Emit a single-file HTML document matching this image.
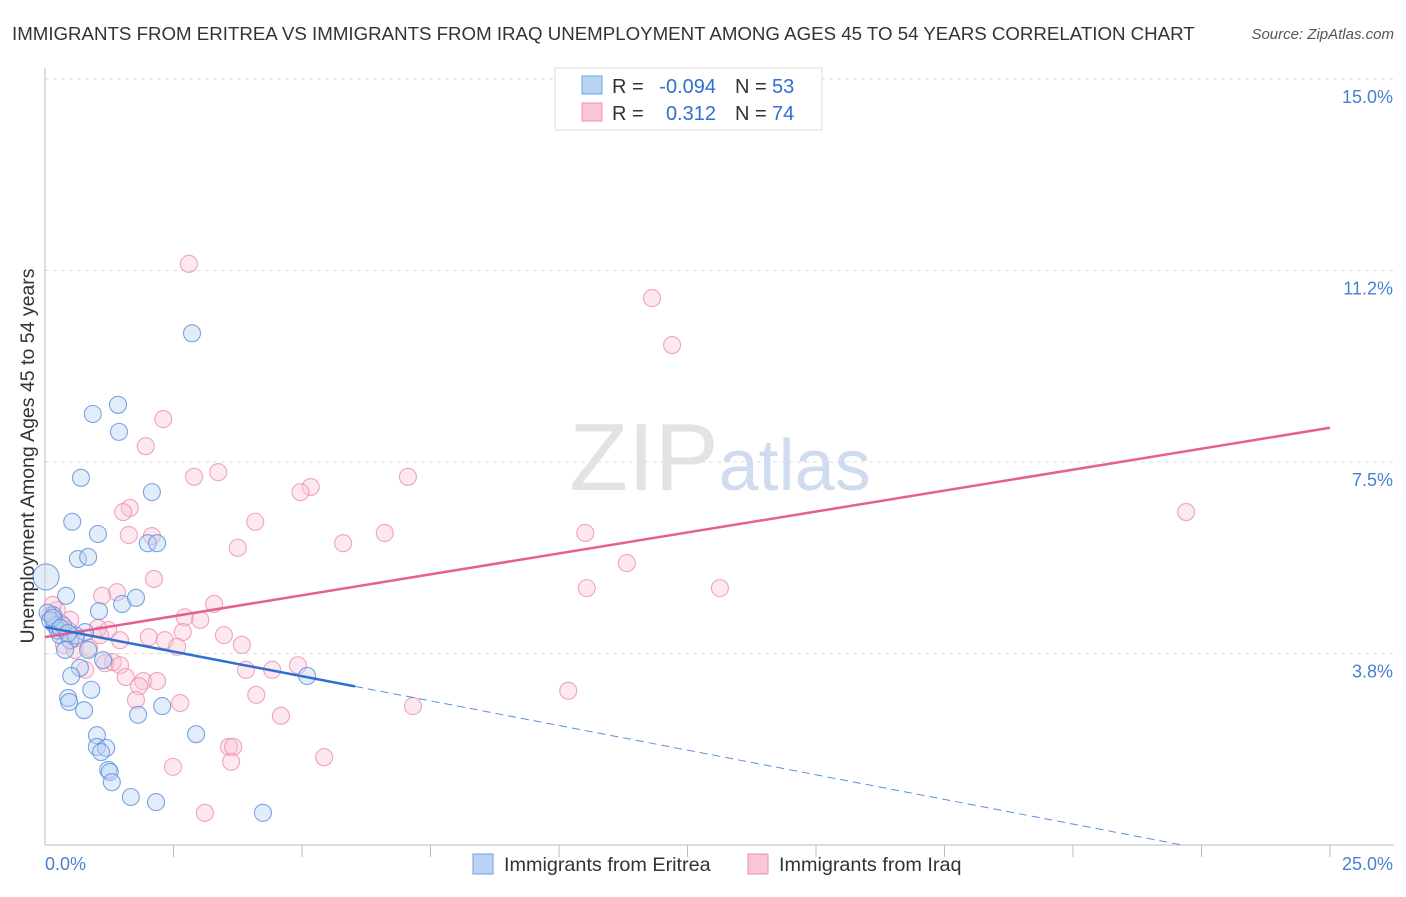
<!DOCTYPE html>
<html><head><meta charset="utf-8"><style>
body{margin:0;background:#fff;font-family:"Liberation Sans",sans-serif}
svg text{font-family:"Liberation Sans",sans-serif}
</style></head><body>
<svg id="chart" width="1406" height="892" xmlns="http://www.w3.org/2000/svg">
<text x="12" y="40" font-size="18.7" fill="#333">IMMIGRANTS FROM ERITREA VS IMMIGRANTS FROM IRAQ UNEMPLOYMENT AMONG AGES 45 TO 54 YEARS CORRELATION CHART</text>
<text x="1394" y="39" font-size="15" fill="#555" text-anchor="end" font-style="italic">Source: ZipAtlas.com</text>
<g id="grid"></g>
<text x="720" y="490" font-size="96" text-anchor="middle" fill="#e3e3e3" font-family="Liberation Serif">ZIP<tspan fill="#cfdcef" font-family="Liberation Sans" font-size="72">atlas</tspan></text>
<g id="marks"></g>
<text transform="translate(34,456) rotate(-90)" font-size="19.5" fill="#333" text-anchor="middle">Unemployment Among Ages 45 to 54 years</text>
<text x="45" y="870" font-size="18" fill="#4a7fd0">0.0%</text>
<text x="1393" y="870" font-size="18" fill="#4a7fd0" text-anchor="end">25.0%</text>
<g>
<rect x="555" y="68" width="267" height="62" fill="#fff" stroke="#ddd"/>
<rect x="582" y="76" width="20" height="18" fill="#b9d3f3" stroke="#6f9fe0"/>
<rect x="582" y="103" width="20" height="18" fill="#f9c6d6" stroke="#ec8fae"/>
<text x="612" y="93" font-size="20" fill="#333">R =</text>
<text x="716" y="93" font-size="20" fill="#2f6fd0" text-anchor="end">-0.094</text>
<text x="735" y="93" font-size="20" fill="#333">N =</text>
<text x="772" y="93" font-size="20" fill="#2f6fd0">53</text>
<text x="612" y="120" font-size="20" fill="#333">R =</text>
<text x="716" y="120" font-size="20" fill="#2f6fd0" text-anchor="end">0.312</text>
<text x="735" y="120" font-size="20" fill="#333">N =</text>
<text x="772" y="120" font-size="20" fill="#2f6fd0">74</text>
</g>
<g>
<rect x="473" y="854" width="20" height="20" fill="#b9d3f3" stroke="#6f9fe0"/>
<text x="504" y="871" font-size="19.8" fill="#333">Immigrants from Eritrea</text>
<rect x="748" y="854" width="20" height="20" fill="#f9c6d6" stroke="#ec8fae"/>
<text x="779" y="871" font-size="19.8" fill="#333">Immigrants from Iraq</text>
</g>
</svg>
<script>
const yTicks=[3.75,7.5,11.25,15];
const yTickLabels=["3.8%","7.5%","11.2%","15.0%"];
const eritreaX=[2.86,1.42,0.93,1.44,0.70,2.08,0.53,1.03,2.00,2.18,0.64,0.84,0.41,1.05,1.50,1.77,0.16,0.19,0.29,0.49,0.78,0.39,0.84,1.13,0.68,0.51,5.10,0.45,0.90,0.47,0.76,1.81,2.28,2.94,1.01,1.01,1.19,1.09,1.23,1.26,1.30,1.67,2.16,4.24,0.05,0.10,0.25,0.35,0.60,0.15,0.30,0.45];
const eritreaY=[10.02,8.62,8.44,8.09,7.19,6.91,6.33,6.09,5.91,5.91,5.60,5.64,4.88,4.58,4.72,4.84,4.50,4.31,4.11,4.01,4.17,3.82,3.82,3.62,3.47,3.31,3.31,2.88,3.04,2.80,2.64,2.55,2.72,2.17,2.15,1.92,1.90,1.82,1.47,1.43,1.23,0.94,0.84,0.63,4.55,4.40,4.20,4.30,4.10,4.45,4.25,4.15];
const bigX=[0.02], bigY=[5.25];
const iraqX=[2.80,11.81,12.20,2.30,1.96,3.37,2.90,7.06,5.17,4.97,1.65,1.52,4.09,22.20,1.63,2.08,6.61,10.51,5.80,3.75,11.32,2.12,10.54,13.13,1.40,1.11,3.29,2.72,3.02,0.23,0.19,0.49,1.23,1.03,2.02,2.33,2.68,3.48,3.83,2.57,0.37,0.58,0.86,1.32,1.17,1.46,0.78,3.91,4.42,4.92,1.57,1.91,2.18,1.83,4.11,10.18,1.77,2.63,7.16,4.59,3.58,3.66,3.62,5.43,2.49,3.11,1.07,1.46,0.10,0.30,0.45,0.15,0.60,0.25];
const iraqY=[11.38,10.71,9.79,8.34,7.81,7.30,7.21,7.21,7.01,6.91,6.60,6.52,6.33,6.52,6.07,6.05,6.11,6.11,5.91,5.82,5.52,5.21,5.03,5.03,4.95,4.88,4.72,4.46,4.41,4.60,4.41,4.41,4.21,4.25,4.07,4.01,4.17,4.11,3.92,3.88,3.92,3.82,3.86,3.58,3.56,3.52,3.43,3.43,3.43,3.52,3.29,3.21,3.21,3.11,2.94,3.02,2.84,2.78,2.72,2.53,1.92,1.92,1.63,1.72,1.53,0.63,4.11,4.01,4.50,4.35,4.20,4.70,4.05,4.30];
const eritreaTrend=[4.27,-0.193], eritreaSolidEnd=6.03;
const iraqTrend=[4.07,0.164];
const X0=45,X1=1330,Y0=845,Y15=79;
const sx=v=>X0+(X1-X0)*v/25, sy=v=>Y0-(Y0-Y15)*v/15;
const NS="http://www.w3.org/2000/svg";
function mk(parent,tag,attrs){const e=document.createElementNS(NS,tag);for(const k in attrs)e.setAttribute(k,attrs[k]);parent.appendChild(e);return e;}
const grid=document.getElementById('grid'), marks=document.getElementById('marks');
yTicks.forEach((t,i)=>{
 const l=mk(grid,'line',{x1:X0,x2:1394,y1:sy(t),y2:sy(t),stroke:'#ddd','stroke-dasharray':'4,4'});
 
 
 const tx=mk(grid,'text',{x:1393,y:sy(t)+24,'font-size':18,fill:'#4a7fd0','text-anchor':'end'});
 tx.textContent=yTickLabels[i];
 
 
});
const ax=mk(grid,'line',{x1:X0,x2:X0,y1:68,y2:Y0,stroke:'#bbb'});


const bx=mk(grid,'line',{x1:X0,x2:1394,y1:Y0,y2:Y0,stroke:'#bbb'});


for(let v=2.5;v<=25;v+=2.5){const t=mk(grid,'line',{x1:sx(v),x2:sx(v),y1:Y0,y2:Y0+12,stroke:'#bbb'});
 
 }
function dots(xs,ys,fill,stroke,r,name){xs.forEach((x,i)=>{const c=mk(marks,'circle',{cx:sx(x),cy:sy(ys[i]),r:r,fill:fill,'fill-opacity':0.4,stroke:stroke,'stroke-opacity':0.8,'stroke-width':1.1});
 
 });}
dots(iraqX,iraqY,'#f9c6d6','#ec8fae',8.5,'iraq-point');
dots(eritreaX,eritreaY,'#b9d3f3','#5b8fdc',8.5,'eritrea-point');
dots(bigX,bigY,'#b9d3f3','#5b8fdc',13,'eritrea-point');
const it=mk(marks,'line',{x1:sx(0),y1:sy(iraqTrend[0]),x2:sx(25),y2:sy(iraqTrend[0]+25*iraqTrend[1]),stroke:'#e5608e','stroke-width':2.5});


const es=mk(marks,'line',{x1:sx(0),y1:sy(eritreaTrend[0]),x2:sx(eritreaSolidEnd),y2:sy(eritreaTrend[0]+eritreaSolidEnd*eritreaTrend[1]),stroke:'#2f6fd0','stroke-width':2.5});


const xEnd=-eritreaTrend[0]/eritreaTrend[1];
const ed=mk(marks,'line',{x1:sx(eritreaSolidEnd),y1:sy(eritreaTrend[0]+eritreaSolidEnd*eritreaTrend[1]),x2:sx(xEnd),y2:sy(0),stroke:'#5b8fdc','stroke-width':1,'stroke-dasharray':'8,5'});


</script>
</body></html>
